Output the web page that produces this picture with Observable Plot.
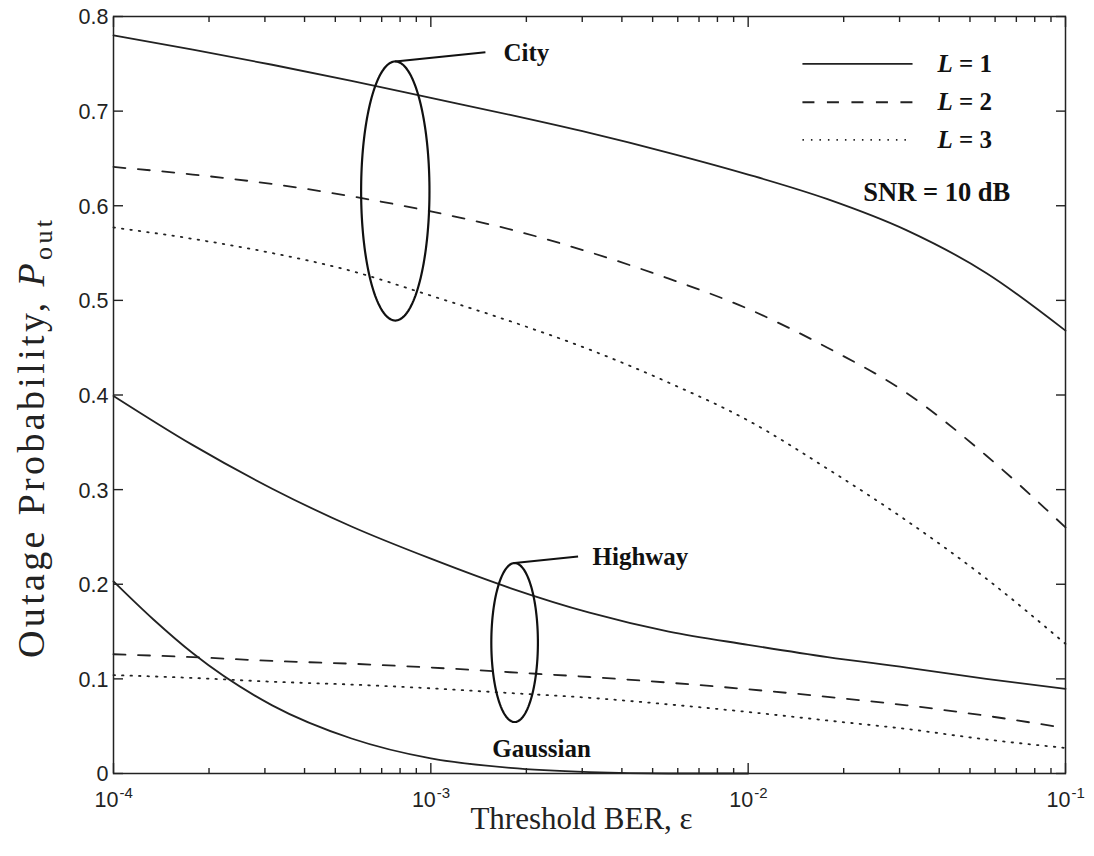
<!DOCTYPE html>
<html>
<head>
<meta charset="utf-8">
<script src="https://cdn.jsdelivr.net/npm/d3@7"></script>
<script src="https://cdn.jsdelivr.net/npm/@observablehq/plot@0.6"></script>
<style>
  html, body { margin: 0; padding: 0; background: #fff; }
  #chart svg { display: block; }
</style>
</head>
<body>
<div id="chart"></div>
<script>
// ---- data ----
// exponent of the threshold BER (x = 10^exp)
const berExp = [-4, -3.75, -3.5, -3.25, -3, -2.75, -2.5, -2.25, -2, -1.75, -1.5, -1.25, -1];
const cityL1 = [0.780, 0.765, 0.749, 0.732, 0.714, 0.696, 0.677, 0.656, 0.633, 0.607, 0.574, 0.529, 0.468];
const cityL2 = [0.641, 0.633, 0.623, 0.610, 0.594, 0.575, 0.551, 0.523, 0.491, 0.450, 0.402, 0.336, 0.260];
const cityL3 = [0.577, 0.565, 0.550, 0.531, 0.505, 0.478, 0.448, 0.413, 0.373, 0.322, 0.267, 0.206, 0.137];
const highwayL1 = [0.399, 0.347, 0.301, 0.261, 0.227, 0.196, 0.170, 0.150, 0.136, 0.123, 0.112, 0.100, 0.0895];
const highwayL2 = [0.126, 0.123, 0.119, 0.116, 0.112, 0.107, 0.102, 0.096, 0.089, 0.081, 0.072, 0.061, 0.048];
const highwayL3 = [0.104, 0.101, 0.097, 0.094, 0.090, 0.085, 0.080, 0.073, 0.065, 0.056, 0.047, 0.036, 0.027];
const gaussExp = [-4, -3.875, -3.75, -3.5, -3.25, -3, -2.75, -2.5, -2.25, -2];
const gaussianL1 = [0.203, 0.163, 0.127, 0.072, 0.037, 0.016, 0.006, 0.0015, 0, 0];

const xMajorTicks = [1e-4, 1e-3, 1e-2, 1e-1];
const yTicks = [0, 0.1, 0.2, 0.3, 0.4, 0.5, 0.6, 0.7, 0.8];
const legendLabels = ["L = 1", "L = 2", "L = 3"];

// ---- annotations ----
const ellipses = [
  {name: "City", cx: -3.112, cy: 0.6156, rx: 0.1077, ry: 0.1369},
  {name: "Highway", cx: -2.736, cy: 0.1384, rx: 0.0734, ry: 0.084}
];
const leaders = [
  {x1: 10 ** -3.112, y1: 0.7525, x2: 10 ** -2.828, y2: 0.7623},
  {x1: 10 ** -2.736, y1: 0.2224, x2: 10 ** -2.536, y2: 0.2293}
];
const startLabels = [
  {text: "City", x: 10 ** -2.771, y: 0.761},
  {text: "Highway", x: 10 ** -2.4905, y: 0.2283}
];
const middleLabels = [
  {text: "Gaussian", x: 10 ** -2.651, y: 0.0264}
];
const legendY = [0.750, 0.7094, 0.6697];
const legendX1 = 10 ** -1.829, legendX2 = 10 ** -1.482, legendTextX = 10 ** -1.4033;

// ---- build tables ----
const series = [
  {key: "City-1", L: 1, exp: berExp, values: cityL1},
  {key: "City-2", L: 2, exp: berExp, values: cityL2},
  {key: "City-3", L: 3, exp: berExp, values: cityL3},
  {key: "Highway-1", L: 1, exp: berExp, values: highwayL1},
  {key: "Highway-2", L: 2, exp: berExp, values: highwayL2},
  {key: "Highway-3", L: 3, exp: berExp, values: highwayL3},
  {key: "Gaussian-1", L: 1, exp: gaussExp, values: gaussianL1}
];
const rows = series.flatMap(s => s.values.map((v, i) => ({key: s.key, L: s.L, ber: 10 ** s.exp[i], p: v})));

const xMinorTicks = [];
for (const d of xMajorTicks.slice(0, -1)) for (let k = 2; k <= 9; k++) xMinorTicks.push(d * k);

const ellipsePts = ellipses.flatMap(e => d3.range(0, 181).map(i => {
  const t = i / 180 * 2 * Math.PI;
  return {name: e.name, x: 10 ** (e.cx + e.rx * Math.cos(t)), y: e.cy + e.ry * Math.sin(t)};
}));

const legendRows = legendLabels.map((label, i) => ({label, L: i + 1, y: legendY[i]}));

const dashFor = {1: null, 2: "12,12.5", 3: "1.5,7"};
const ink = "#222";
const serif = "'Liberation Serif', 'Times New Roman', serif";
const sans = "'Liberation Sans', Arial, Helvetica, sans-serif";

const curveMarks = [1, 2, 3].map(L => Plot.line(rows.filter(r => r.L === L), {
  x: "ber", y: "p", z: "key", curve: "monotone-x",
  stroke: ink, strokeWidth: 1.8, strokeDasharray: dashFor[L]
}));

const legendMarks = [1, 2, 3].map(L => Plot.link(legendRows.filter(r => r.L === L), {
  x1: () => legendX1, x2: () => legendX2, y1: "y", y2: "y",
  stroke: ink, strokeWidth: 1.8, strokeDasharray: dashFor[L]
}));

const chart = Plot.plot({
  width: 1094,
  height: 856,
  marginLeft: 113,
  marginRight: 29,
  marginTop: 16,
  marginBottom: 83,
  style: {fontFamily: sans, background: "#fff", color: ink, overflow: "visible"},
  x: {type: "log", domain: [1e-4, 1e-1]},
  y: {domain: [0, 0.8]},
  marks: [
    // ticks (inward)
    Plot.axisX(xMajorTicks, {anchor: "bottom", tickSize: -10, tickFormat: () => "", label: null, strokeWidth: 1.4}),
    Plot.axisX(xMajorTicks, {anchor: "top", tickSize: -10, tickFormat: () => "", label: null, strokeWidth: 1.4}),
    Plot.axisX(xMinorTicks, {anchor: "bottom", tickSize: -5, tickFormat: () => "", label: null, strokeWidth: 1.4}),
    Plot.axisX(xMinorTicks, {anchor: "top", tickSize: -5, tickFormat: () => "", label: null, strokeWidth: 1.4}),
    Plot.axisY(yTicks, {anchor: "left", tickSize: -10, tickFormat: () => "", label: null, strokeWidth: 1.4}),
    Plot.axisY(yTicks, {anchor: "right", tickSize: -10, tickFormat: () => "", label: null, strokeWidth: 1.4}),
    // tick labels
    Plot.text(yTicks, {y: d => d, frameAnchor: "left", text: d => d === 0 ? "0" : d.toFixed(1),
      textAnchor: "end", dx: -5, dy: 1, fontSize: 21.5, fontFamily: sans, fill: ink}),
    Plot.text(xMajorTicks, {x: d => d, frameAnchor: "bottom", text: () => "10",
      textAnchor: "end", dx: 5, dy: 33, fontSize: 21.5, fontFamily: sans, fill: ink}),
    Plot.text(xMajorTicks, {x: d => d, frameAnchor: "bottom", text: d => "-" + Math.round(-Math.log10(d)),
      textAnchor: "start", dx: 6, dy: 24, fontSize: 15, fontFamily: sans, fill: ink}),
    // axis titles
    Plot.text(["Threshold BER, ε"], {frameAnchor: "bottom", textAnchor: "middle", dx: -8, dy: 55,
      fontSize: 31, fontFamily: serif, fill: ink}),
    Plot.text(["Outage Probability, P_out"], {frameAnchor: "left", textAnchor: "middle", rotate: -90,
      dx: -82, dy: 44, fontSize: 38, fontFamily: serif, fill: ink}),
    // data curves
    ...curveMarks,
    // annotations
    Plot.line(ellipsePts, {x: "x", y: "y", z: "name", stroke: "#111", strokeWidth: 2.2}),
    Plot.link(leaders, {x1: "x1", y1: "y1", x2: "x2", y2: "y2", stroke: "#111", strokeWidth: 2}),
    Plot.text(startLabels, {x: "x", y: "y", text: "text", textAnchor: "start", fontSize: 25,
      fontWeight: "bold", fontFamily: serif, fill: "#111"}),
    Plot.text(middleLabels, {x: "x", y: "y", text: "text", textAnchor: "middle", fontSize: 25,
      fontWeight: "bold", fontFamily: serif, fill: "#111"}),
    // legend
    ...legendMarks,
    Plot.text(legendRows, {x: () => legendTextX, y: "y", text: "label", textAnchor: "start",
      fontSize: 25, fontWeight: "bold", fontFamily: serif, fill: "#111"}),
    Plot.text(["SNR = 10 dB"], {x: () => 10 ** -1.637, y: () => 0.6143, textAnchor: "start",
      fontSize: 26.5, fontWeight: "bold", fontFamily: serif, fill: "#111"}),
    Plot.frame({stroke: ink, strokeWidth: 1.5})
  ]
});

// rich text touch-ups: italic L, italic P with subscript
d3.select(chart).selectAll("text").each(function () {
  const t = this.textContent;
  const sel = d3.select(this);
  if (/^L = \d$/.test(t)) {
    sel.text(null);
    sel.append("tspan").attr("font-style", "italic").text("L");
    sel.append("tspan").text(t.slice(1));
  } else if (t === "Outage Probability, P_out") {
    sel.text(null);
    sel.attr("textLength", 438).attr("lengthAdjust", "spacing");
    sel.append("tspan").text("Outage Probability, ");
    sel.append("tspan").attr("font-style", "italic").text("P");
    sel.append("tspan").attr("font-size", "26").attr("dy", 8).text("out");
  }
});

document.getElementById("chart").appendChild(chart);
</script>
</body>
</html>
